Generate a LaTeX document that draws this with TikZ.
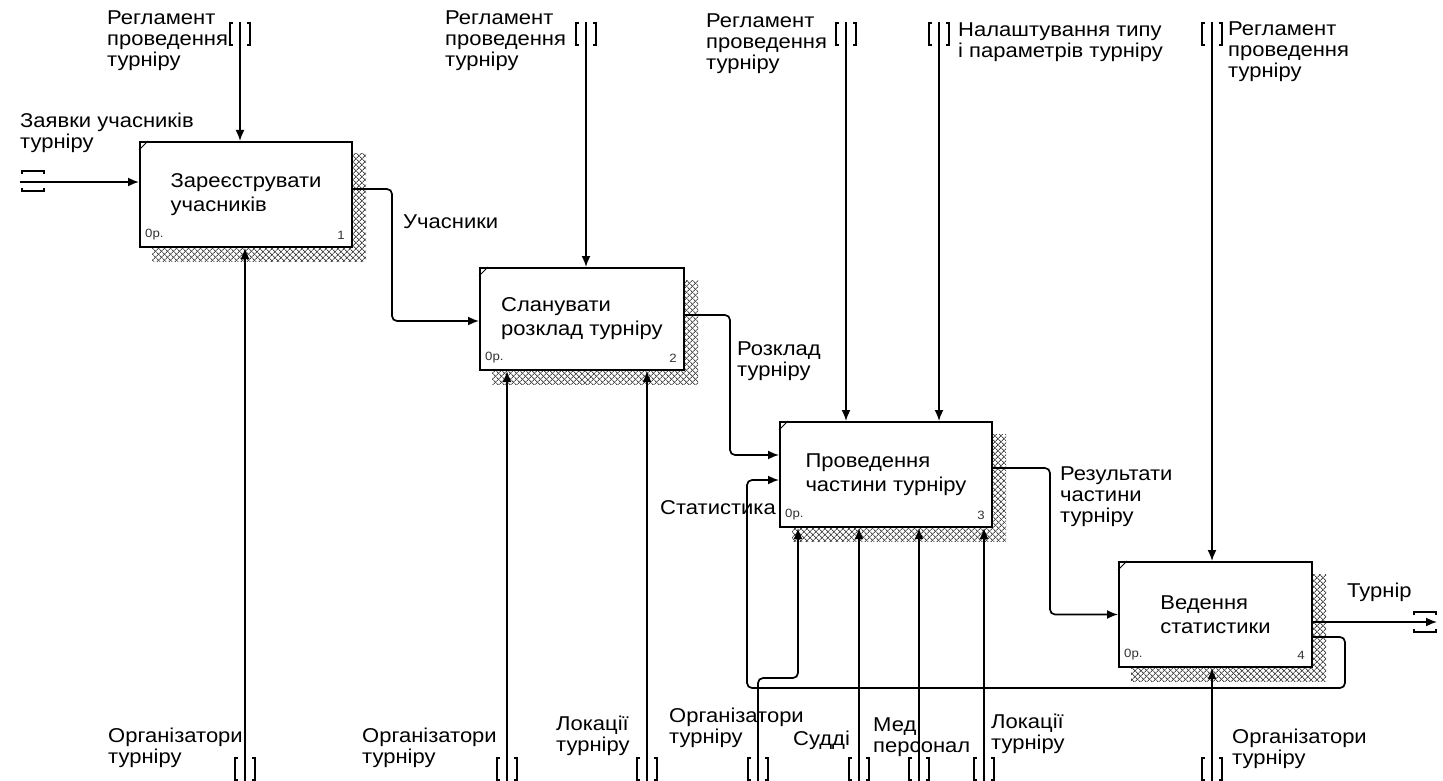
\documentclass[tikz,border=0pt]{standalone}
\usepackage{fontspec}
\setmainfont{Liberation Sans}[FakeStretch=1.1]
\usetikzlibrary{arrows.meta,patterns.meta,backgrounds}
\tikzset{font={\fontsize{20pt}{21pt}\selectfont}}

\begin{document}
\begin{tikzpicture}[x=1pt,y=-1pt,
  box/.style={draw,line width=2pt,fill=white,inner sep=0pt,align=left,
    font={\fontsize{20pt}{24pt}\selectfont}},
  flow/.style={line width=1.7pt,-{Latex[length=11pt,width=9pt]},rounded corners=5pt},
  lbl/.style={anchor=west,align=left,inner sep=0pt},
  tiny/.style={font={\fontsize{12pt}{13pt}\selectfont},inner sep=0pt,text=black!80},
  hatch/.style={pattern={Lines[angle=45,distance=4pt,line width=0.9pt]},pattern color=black!70},
  hatchb/.style={pattern={Lines[angle=-45,distance=4pt,line width=0.9pt]},pattern color=black!70},
  tunv/.pic={\draw[line width=1.4pt] (-7,-11) -- (-10,-11) -- (-10,11) -- (-7,11)
    (7,-11) -- (10,-11) -- (10,11) -- (7,11);},
  tunh/.pic={\draw[line width=1.4pt] (-11,-7) -- (-11,-10) -- (11,-10) -- (11,-7)
    (-11,7) -- (-11,10) -- (11,10) -- (11,7);}
]
\useasboundingbox (0,0) rectangle (1443,781);

% activity boxes
\node[box,minimum width=212pt,minimum height=105pt] (b1) at (246,194.5) {Зареєструвати\\учасників};
\node[box,minimum width=204pt,minimum height=102pt] (b2) at (582,319) {Сланувати\\розклад турніру};
\node[box,minimum width=212pt,minimum height=105pt] (b3) at (886,474.5) {Проведення\\частини турніру};
\node[box,minimum width=193pt,minimum height=105pt] (b4) at (1215.5,614.5) {Ведення\\статистики};

\begin{scope}[on background layer]
\foreach \b in {b1,b2,b3,b4}{
  \fill[hatch] ([shift={(13,13)}]\b.north west) rectangle ([shift={(13,13)}]\b.south east);
  \fill[hatchb] ([shift={(13,13)}]\b.north west) rectangle ([shift={(13,13)}]\b.south east);
}
\end{scope}

\foreach \b/\n in {b1/1,b2/2,b3/3,b4/4}{
  \draw[line width=0.8pt] ([yshift=-9pt]\b.north west) -- ([xshift=9pt]\b.north west);
  \node[tiny,anchor=south west] (\b-cost) at ([shift={(6,-8)}]\b.south west) {0р.};
  \node[tiny,anchor=south east] (\b-num) at ([shift={(-8,-8)}]\b.south east) {\n};
}

% box 1
\coordinate (r1) at (240,22);
\coordinate (z1) at (20,182);
\coordinate (o1) at (245,781);
\draw[flow] (r1) -- (r1 |- b1.north);
\draw[flow] (z1) -- (z1 -| b1.west);
\draw[flow] (o1) -- (o1 |- b1.south);
\draw[flow] ([yshift=5.5pt]b1.east) -| (392,321) -- ([yshift=-2pt]b2.west);
\pic at (240,34) {tunv};
\pic at (33,181) {tunh};
\pic at (245,769) {tunv};
\node[lbl] (lr1) at (107,41) {Регламент\\проведення\\турніру};
\node[lbl] (lz1) at (20,133) {Заявки учасників\\турніру};
\node[lbl] (lu1) at (403,222) {Учасники};
\node[lbl] (lo1) at (108,748) {Організатори\\турніру};

% box 2
\coordinate (r2) at (586,22);
\coordinate (o2) at (507,781);
\coordinate (l2) at (647,781);
\draw[flow] (r2) -- (r2 |- b2.north);
\draw[flow] (o2) -- (o2 |- b2.south);
\draw[flow] (l2) -- (l2 |- b2.south);
\draw[flow] ([yshift=4pt]b2.east) -| (730,455) -- ([yshift=19.5pt]b3.west);
\pic at (586,34) {tunv};
\pic at (507,769) {tunv};
\pic at (647,769) {tunv};
\node[lbl] (lr2) at (445,41) {Регламент\\проведення\\турніру};
\node[lbl] (lrz2) at (737,361) {Розклад\\турніру};
\node[lbl] (lo2) at (362,748) {Організатори\\турніру};
\node[lbl] (ll2) at (556,736) {Локації\\турніру};

% box 3
\coordinate (r3) at (846,22);
\coordinate (n3) at (939,22);
\coordinate (o3) at (758,781);
\coordinate (k3) at (798,678);
\coordinate (s3) at (859,781);
\coordinate (m3) at (919,781);
\coordinate (l3) at (984,781);
\draw[flow] (r3) -- (r3 |- b3.north);
\draw[flow] (n3) -- (n3 |- b3.north);
\draw[flow] (o3) |- (k3) -- (k3 |- b3.south);
\draw[flow] (s3) -- (s3 |- b3.south);
\draw[flow] (m3) -- (m3 |- b3.south);
\draw[flow] (l3) -- (l3 |- b3.south);
\draw[flow] ([yshift=6.5pt]b3.east) -| (1050,614.5) -- (b4.west);
\draw[flow] ([yshift=-22.5pt]b4.east) -| (1345,688) -| (747,480) -- ([yshift=-5.5pt]b3.west);
\pic at (846,34) {tunv};
\pic at (939,34) {tunv};
\foreach \c in {o3,s3,m3,l3} \pic at ([yshift=12pt]\c) {tunv};
\node[lbl] (lr3) at (706,44) {Регламент\\проведення\\турніру};
\node[lbl] (ln3) at (958,42) {Налаштування типу\\і параметрів турніру};
\node[lbl] (lst3) at (660,508) {Статистика};
\node[lbl] (lres3) at (1060,497) {Результати\\частини\\турніру};
\node[lbl] (lo3) at (669,728) {Організатори\\турніру};
\node[lbl] (ls3) at (793,740) {Судді};
\node[lbl] (lm3) at (873,737) {Мед\\персонал};
\node[lbl] (ll3) at (991,734) {Локації\\турніру};

% box 4
\coordinate (r4) at (1212,22);
\coordinate (o4) at (1212,781);
\coordinate (t4) at (1437,622);
\draw[flow] (r4) -- (r4 |- b4.north);
\draw[flow] (o4) -- (o4 |- b4.south);
\draw[flow] ([yshift=-7.5pt]b4.east) -- (t4);
\pic at (1212,34) {tunv};
\pic at (1212,769) {tunv};
\pic at (1425,622) {tunh};
\node[lbl] (lr4) at (1228,52) {Регламент\\проведення\\турніру};
\node[lbl] (lt4) at (1347,592) {Турнір};
\node[lbl] (lo4) at (1232,749) {Організатори\\турніру};
\end{tikzpicture}
\end{document}
